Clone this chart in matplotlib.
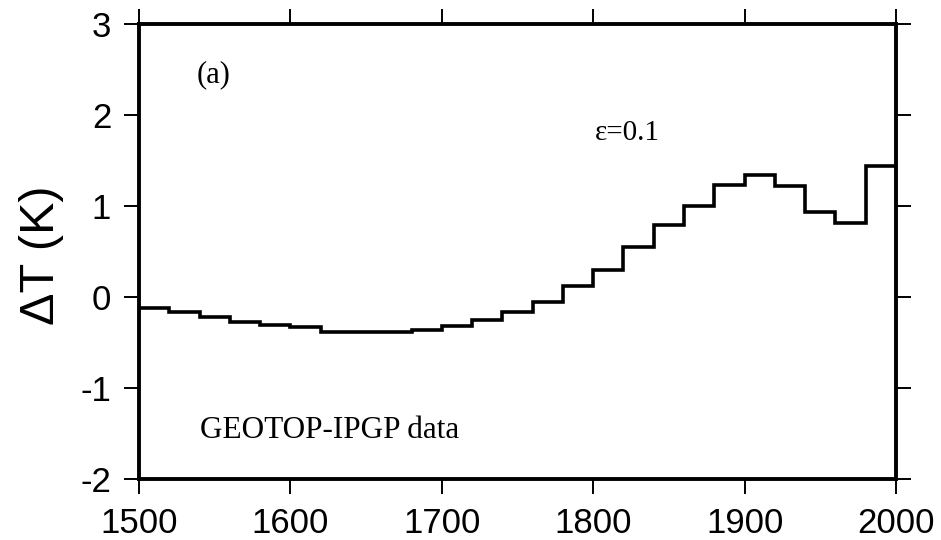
import matplotlib
matplotlib.use("Agg")
import matplotlib.pyplot as plt

# Bin edges (years) and temperature anomaly per 20-year bin (K)
bin_edges = [1500, 1520, 1540, 1560, 1580, 1600, 1620, 1640, 1660, 1680, 1700,
             1720, 1740, 1760, 1780, 1800, 1820, 1840, 1860, 1880, 1900,
             1920, 1940, 1960, 1980, 2000]
delta_t = [-0.12, -0.17, -0.22, -0.27, -0.31, -0.33, -0.38, -0.38, -0.38, -0.36,
           -0.32, -0.25, -0.17, -0.05, 0.12, 0.30, 0.55, 0.79, 1.00, 1.23,
           1.34, 1.22, 0.93, 0.81, 1.44]

x_ticks = [1500, 1600, 1700, 1800, 1900, 2000]
y_ticks = [-2, -1, 0, 1, 2, 3]

SANS = "Liberation Sans"
SERIF = "Liberation Serif"

plt.rcParams["axes.unicode_minus"] = False

fig = plt.figure(figsize=(9.41, 5.40), dpi=100)
ax = fig.add_axes([0.1477, 0.1130, 0.8045, 0.8426])

ax.stairs(delta_t, bin_edges, baseline=None, color="black", linewidth=2.6)

ax.set_xlim(1500, 2000)
ax.set_ylim(-2, 3)
ax.set_xticks(x_ticks)
ax.set_yticks(y_ticks)

for side in ax.spines.values():
    side.set_linewidth(2.8)

ax.tick_params(axis="both", which="major", direction="out", length=11, width=1.4,
               top=True, right=True, labeltop=False, labelright=False,
               labelsize=25, pad=9)
for lab in ax.get_xticklabels() + ax.get_yticklabels():
    lab.set_fontfamily(SANS)

# Annotations
ax.text(1538, 2.36, "(a)", family=SERIF, fontsize=22, ha="left", va="baseline")
ax.text(1801, 1.725, "ε=0.1", family=SERIF, fontsize=21, ha="left", va="baseline")
ax.text(1540, -1.55, "GEOTOP-IPGP data", family=SERIF, fontsize=22.5,
        ha="left", va="baseline")

fig.text(0.0446, 0.528, "ΔT (K)", family=SANS, fontsize=35, rotation=90,
         ha="center", va="center")

fig.savefig("out.png", dpi=100)
